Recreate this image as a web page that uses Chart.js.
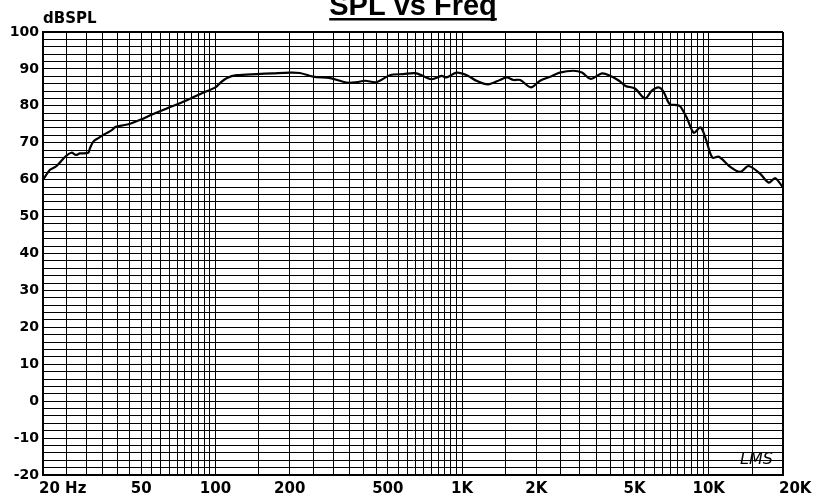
<!DOCTYPE html>
<html>
<head>
<meta charset="utf-8">
<script src="https://cdn.jsdelivr.net/npm/chart.js@4.4.1/dist/chart.umd.min.js"></script>
<style>
  html, body { margin: 0; padding: 0; background: #fff; }
  #wrap { width: 815px; height: 504px; }
</style>
</head>
<body>
<div id="wrap"><canvas id="spl" width="815" height="504"></canvas></div>
<script>
/* ── SPL vs Freq (LMS style response plot) ── */

const FREQ = [20, 20.2, 21.3, 22.7, 24.6, 26.1, 27.2, 28.2, 30.5, 31, 32, 33.4, 35.7, 38, 39.4, 42.9, 45.7, 49.6,
    56, 63.5, 71.8, 81.2, 91, 100, 105, 111, 122, 147, 171, 200, 220, 249, 292, 340, 374, 404, 449, 510, 578,
    652, 752, 826, 864, 950, 1046, 1150, 1274, 1424, 1517, 1616, 1720, 1900, 2070, 2277, 2490, 2825, 3060,
    3320, 3690, 4000, 4330, 4600, 5020, 5520, 5880, 6260, 6560, 6940, 7440, 7680, 8170, 8700, 9260, 9710,
    10340, 11000, 12100, 13400, 14500, 16100, 17500, 18600, 19900, 20000];
const SPL = [60.0, 60.4, 62.6, 63.7, 66.2, 67.3, 66.7, 67.1, 67.3, 68.5, 70.3, 71.2, 72.4, 73.4, 74.3, 74.8, 75.3, 76.2,
    77.8, 79.3, 80.7, 82.3, 83.8, 85.0, 86.3, 87.5, 88.3, 88.6, 88.8, 89.0, 88.9, 87.9, 87.5, 86.3, 86.4, 86.8, 86.4, 88.3, 88.6,
    88.8, 87.2, 88.1, 87.7, 89.0, 88.3, 86.7, 85.8, 87.0, 87.7, 87.0, 87.0, 85.0, 86.8, 87.9, 89.0, 89.5, 89.0,
    87.3, 88.8, 88.1, 86.8, 85.4, 84.7, 82.0, 84.1, 85.0, 83.8, 80.5, 80.2, 79.8, 76.6, 72.7, 74.2, 71.2,
    66.0, 66.2, 63.7, 62.1, 63.7, 61.7, 59.2, 60.4, 58.1, 58.0];

// grid lines: 5 Hz steps to 100, 50 Hz to 1K, 500 Hz to 10K, 5K to 20K
const GRID_FREQ = [];
for (let f = 20; f < 100; f += 5) GRID_FREQ.push(f);
for (let f = 100; f < 1000; f += 50) GRID_FREQ.push(f);
for (let f = 1000; f < 10000; f += 500) GRID_FREQ.push(f);
for (let f = 10000; f <= 20000; f += 5000) GRID_FREQ.push(f);

const X_LABELS = [
    { v: 20, t: "20 Hz", align: "left" },
    { v: 50, t: "50" }, { v: 100, t: "100" }, { v: 200, t: "200" }, { v: 500, t: "500" },
    { v: 1000, t: "1K" }, { v: 2000, t: "2K" }, { v: 5000, t: "5K" }, { v: 10000, t: "10K" },
    { v: 20000, t: "20K", align: "left" }
];

const Y_MIN = -20, Y_MAX = 100, Y_GRID_STEP = 2, Y_LABEL_STEP = 10;

const FONT = "DejaVu Sans";

/* ── Title, unit label, freq labels and logo ── */
const decorPlugin = {
    id: "decor",
    afterDraw(chart) {
        const c = chart.ctx;
        const xs = chart.scales.x;
        const area = chart.chartArea;
        c.save();
        c.fillStyle = "#000";

        // title with underline
        c.font = "bold 29px 'Liberation Sans', Arial";
        c.textAlign = "center";
        c.textBaseline = "alphabetic";
        const title = "SPL vs Freq";
        const cx = (area.left + area.right) / 2;
        c.fillText(title, cx, 15);
        const w = c.measureText(title).width;
        c.fillRect(cx - w / 2, 18, w, 2.5);

        // unit
        c.font = `bold 15px '${FONT}'`;
        c.textAlign = "left";
        c.fillText("dBSPL", 43, 23);

        // frequency labels
        c.font = `bold 15px '${FONT}'`;
        X_LABELS.forEach(l => {
            const px = xs.getPixelForValue(l.v);
            if (l.align === "left") { c.textAlign = "left"; c.fillText(l.t, px - 4, 493); }
            else { c.textAlign = "center"; c.fillText(l.t, px, 493); }
        });

        // LMS mark
        c.font = `italic 16px '${FONT}'`;
        c.textAlign = "left";
        c.fillText("LMS", 740, 464);
        c.restore();
    }
};

new Chart(document.getElementById("spl").getContext("2d"), {
    type: "line",
    data: {
        datasets: [{
            data: FREQ.map((f, i) => ({ x: f, y: SPL[i] })),
            borderColor: "#000", borderWidth: 2.2, pointRadius: 0, tension: 0.3, fill: false
        }]
    },
    options: {
        responsive: false, animation: false,
        layout: { padding: { top: 32, right: 32, left: 0, bottom: 0 } },
        plugins: { legend: { display: false }, tooltip: { enabled: false } },
        scales: {
            x: {
                type: "logarithmic", min: 20, max: 20000,
                afterBuildTicks: s => { s.ticks = GRID_FREQ.map(v => ({ value: v })); },
                afterFit: s => { s.height = 29; },
                ticks: { display: false },
                grid: {
                    color: "#000",
                    lineWidth: ctx => (ctx.tick && (ctx.tick.value === 20 || ctx.tick.value === 20000)) ? 2 : 1,
                    drawTicks: false
                },
                border: { color: "#000", width: 2 }
            },
            y: {
                min: Y_MIN, max: Y_MAX,
                afterFit: s => { s.width = 43; },
                ticks: {
                    stepSize: Y_GRID_STEP, autoSkip: false, padding: 4, color: "#000",
                    font: { family: FONT, size: 14, weight: "bold" },
                    callback: v => (v % Y_LABEL_STEP === 0 ? String(v) : "")
                },
                grid: {
                    color: "#000",
                    lineWidth: ctx => (ctx.tick && (ctx.tick.value === Y_MIN || ctx.tick.value === Y_MAX)) ? 2 : 1,
                    drawTicks: false
                },
                border: { color: "#000", width: 2 }
            }
        }
    },
    plugins: [decorPlugin]
});
</script>
</body>
</html>
